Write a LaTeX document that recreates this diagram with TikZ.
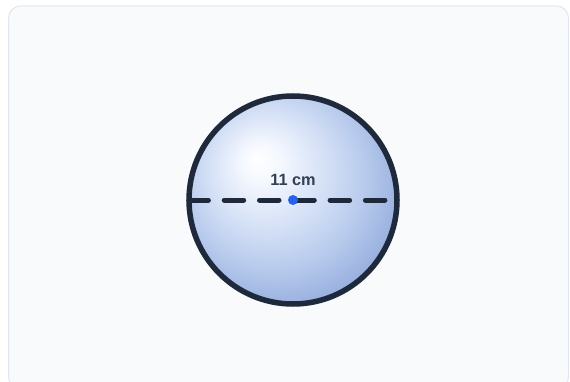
\documentclass[tikz,border=0pt]{standalone}
\usepackage{fontspec}
\setmainfont{Liberation Sans}
\definecolor{panelfill}{HTML}{F8FAFC}
\definecolor{panelline}{HTML}{DFE7F3}
\definecolor{rimcol}{HTML}{1E293B}
\definecolor{dotcol}{HTML}{2563EB}
\definecolor{textcol}{HTML}{334155}
\pgfdeclareradialshading{spherefill}{\pgfpoint{-8.6bp}{10bp}}{%
  color(0bp)=(white);
  color(5bp)=({rgb,255:red,243;green,247;blue,254});
  color(13bp)=({rgb,255:red,216;green,227;blue,247});
  color(22bp)=({rgb,255:red,184;green,203;blue,237});
  color(31bp)=({rgb,255:red,148;green,172;blue,221});
  color(38bp)=({rgb,255:red,112;green,142;blue,198});
  color(50bp)=({rgb,255:red,100;green,130;blue,190})}
\begin{document}
\begin{tikzpicture}[x=1pt,y=1pt,
  panel/.style={fill=panelfill,draw=panelline,line width=1pt,rounded corners=12pt},
  rim/.style={draw=rimcol,line width=5.5pt},
  diam/.style={draw=rimcol,line width=5pt,line cap=round,dash pattern=on 19.5pt off 15.8pt},
  cdot/.style={circle,fill=dotcol,inner sep=0pt,minimum size=10pt},
  lbl/.style={font=\bfseries\fontsize{16.3}{19}\selectfont,text=textcol,inner sep=0pt}]
\useasboundingbox (0,0) rectangle (570,381);
\begin{scope}
\clip (0,0) rectangle (570,381);
\draw[panel] (8.5,-8) rectangle (568.5,375);
\end{scope}
\coordinate (c) at (293,181);
\shade[shading=spherefill] (c) circle[radius=104];
\draw[rim] (c) circle[radius=104];
\coordinate (dl) at (188.9,181);
\coordinate (dr) at (397,181);
\draw[diam] (dl) -- (dr);
\node[cdot] (ctr) at (c) {};
\node[lbl,anchor=base] (len) at (293,195.3) {11 cm};
\end{tikzpicture}
\end{document}
